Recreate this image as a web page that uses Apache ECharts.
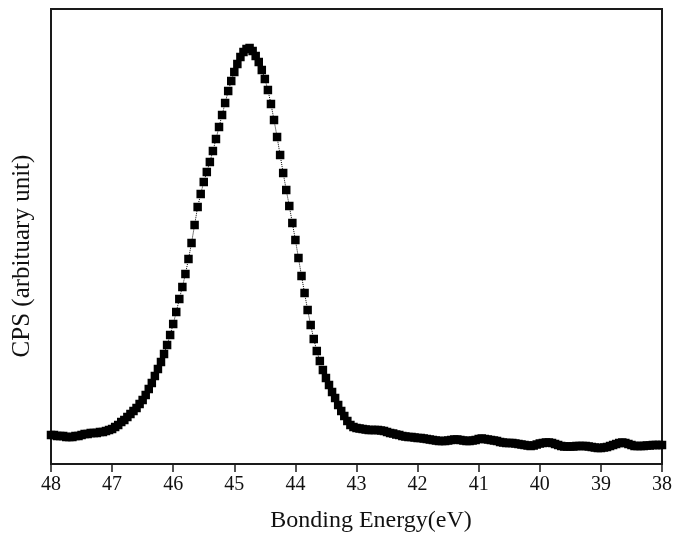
<!DOCTYPE html>
<html>
<head>
<meta charset="utf-8">
<script src="https://cdn.jsdelivr.net/npm/echarts@6/dist/echarts.min.js"></script>
<style>html,body{margin:0;padding:0;background:#fff;}#c{width:675px;height:540px;}</style>
</head>
<body>
<div id="c"></div>
<script>
// Binding energy sample positions (eV)
const energy = [
48.00,47.95,47.90,47.85,47.80,47.75,47.70,47.65,47.60,47.55,
47.50,47.45,47.40,47.35,47.30,47.25,47.20,47.15,47.10,47.05,
47.00,46.95,46.90,46.85,46.80,46.75,46.70,46.65,46.60,46.55,
46.50,46.45,46.40,46.35,46.30,46.25,46.20,46.15,46.10,46.05,
46.00,45.95,45.90,45.85,45.80,45.75,45.70,45.65,45.60,45.55,
45.50,45.45,45.40,45.35,45.30,45.25,45.20,45.15,45.10,45.05,
45.00,44.95,44.90,44.85,44.80,44.75,44.70,44.65,44.60,44.55,
44.50,44.45,44.40,44.35,44.30,44.25,44.20,44.15,44.10,44.05,
44.00,43.95,43.90,43.85,43.80,43.75,43.70,43.65,43.60,43.55,
43.50,43.45,43.40,43.35,43.30,43.25,43.20,43.15,43.10,43.05,
43.00,42.95,42.90,42.85,42.80,42.75,42.70,42.65,42.60,42.55,
42.50,42.45,42.40,42.35,42.30,42.25,42.20,42.15,42.10,42.05,
42.00,41.95,41.90,41.85,41.80,41.75,41.70,41.65,41.60,41.55,
41.50,41.45,41.40,41.35,41.30,41.25,41.20,41.15,41.10,41.05,
41.00,40.95,40.90,40.85,40.80,40.75,40.70,40.65,40.60,40.55,
40.50,40.45,40.40,40.35,40.30,40.25,40.20,40.15,40.10,40.05,
40.00,39.95,39.90,39.85,39.80,39.75,39.70,39.65,39.60,39.55,
39.50,39.45,39.40,39.35,39.30,39.25,39.20,39.15,39.10,39.05,
39.00,38.95,38.90,38.85,38.80,38.75,38.70,38.65,38.60,38.55,
38.50,38.45,38.40,38.35,38.30,38.25,38.20,38.15,38.10,38.05,
38.00
];
// CPS (arbitrary units)
const cps = [
29,29,28,28,28,27,27,27,28,28,
29,30,30,31,31,31,32,32,33,34,
35,37,39,42,44,47,50,53,56,60,
64,69,75,81,88,95,102,110,119,129,
140,152,165,177,190,205,221,239,257,270,
282,292,302,313,325,337,349,361,373,383,
392,400,407,412,415,416,413,408,402,394,
385,374,360,344,327,309,291,274,258,241,
224,206,188,171,154,139,125,113,103,94,
86,79,72,66,59,53,48,43,39,37,
36,35.5,35,34.5,34,34,34,34,33.5,33,
32,31,30.5,29.5,29,28,27.5,27,27,26.5,
26,26,25.5,25,24.5,24,23.5,23,23,23,
23.5,24,24.5,24.5,24,23.5,23,23,23.5,24,
25,25.5,25,24.5,24,23.5,23,22,21.5,21,
21,21,20.5,20,19.5,19,18.5,18,18.5,19.5,
20.5,21,21.5,21.5,21,20,19,18,17.5,17.5,
17.5,17.5,18,18,18,18,17.5,17,16.5,16,
16,16.5,17,18,19,20,21,21.5,21,20,
19,18,18,18,18,18.5,18.5,19,19,19,
19
];
const xMin = 38, xMax = 48, xStep = 1;
const yMin = 0, yMax = 455;
const xTitle = 'Bonding Energy(eV)';
const yTitle = 'CPS (arbituary unit)';

const seriesData = energy.map((e, i) => [e, cps[i]]);
const font = '"Liberation Serif", "DejaVu Serif", serif';
const chart = echarts.init(document.getElementById('c'), null, {renderer: 'canvas'});
chart.setOption({
  animation: false,
  backgroundColor: '#fff',
  grid: {left: 51, right: 11, top: 9, bottom: 76, show: true, borderColor: '#1a1a1a', borderWidth: 2, backgroundColor: 'transparent'},
  xAxis: {
    type: 'value', min: xMin, max: xMax, interval: xStep, inverse: true,
    axisLine: {show: true, lineStyle: {color: '#1a1a1a', width: 2}},
    axisTick: {show: true, inside: false, length: 8, lineStyle: {color: '#1a1a1a', width: 1.5}},
    axisLabel: {color: '#111', fontFamily: font, fontSize: 20, margin: 11},
    splitLine: {show: false}
  },
  yAxis: {
    type: 'value', min: yMin, max: yMax,
    axisLine: {show: true, lineStyle: {color: '#1a1a1a', width: 2}},
    axisTick: {show: false}, axisLabel: {show: false}, splitLine: {show: false}
  },
  graphic: [
    {type: 'text', x: 371, y: 521, style: {text: xTitle, fill: '#111', font: '24px ' + font, textAlign: 'center', textVerticalAlign: 'middle'}},
    {type: 'text', x: 22, y: 256, rotation: Math.PI / 2, style: {text: yTitle, fill: '#111', font: '25px ' + font, textAlign: 'center', textVerticalAlign: 'middle'}}
  ],
  series: [{
    type: 'line',
    data: seriesData,
    symbol: 'rect',
    symbolSize: 8.5,
    showAllSymbol: true,
    itemStyle: {color: '#000'},
    lineStyle: {color: '#000', width: 1, type: 'dotted'},
    clip: true
  }]
});
</script>
</body>
</html>
